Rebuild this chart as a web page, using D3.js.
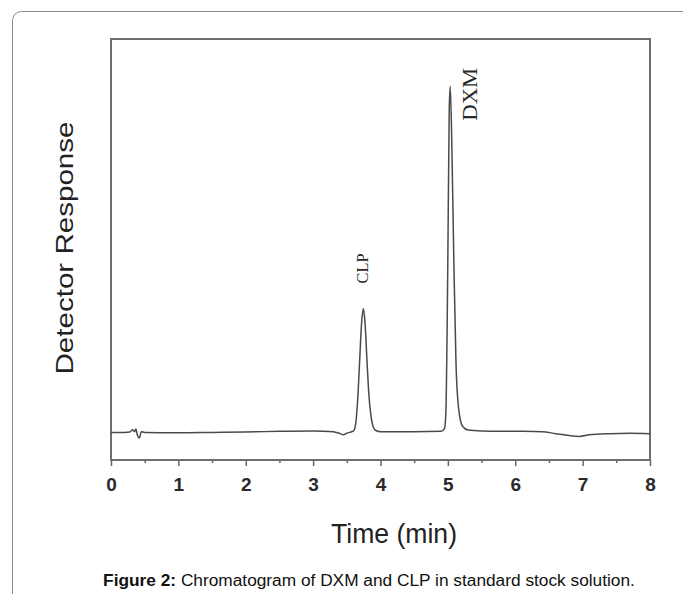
<!DOCTYPE html>
<html>
<head>
<meta charset="utf-8">
<script src="https://cdn.jsdelivr.net/npm/d3@7"></script>
<style>
  html, body { margin: 0; padding: 0; background: #fff; }
  svg { display: block; }
</style>
</head>
<body>
<svg id="chart" width="683" height="594"></svg>
<script>
// ---- data ----
const times = [0.00, 0.20, 0.28, 0.32, 0.35, 0.37, 0.39, 0.42, 0.45, 0.50,
  1.00, 1.50, 2.00, 2.50, 3.00, 3.30, 3.40, 3.45, 3.50, 3.56,
  3.60, 3.63, 3.66, 3.69, 3.72, 3.745, 3.77, 3.80, 3.83, 3.86,
  3.89, 3.93, 4.00, 4.50, 4.90, 4.95, 4.97, 4.99, 5.00, 5.02,
  5.035, 5.06, 5.09, 5.12, 5.16, 5.22, 5.30, 5.50, 6.00, 6.40,
  6.60, 6.80, 6.95, 7.10, 7.40, 7.70, 8.00];
const response = [0.0, 0.0, 0.1, 0.7, 0.2, 0.9, -0.6, -1.4, 0.2, 0.0,
  -0.1, 0.0, 0.1, 0.3, 0.4, 0.2, -0.3, -0.6, -0.2, 0.1,
  0.4, 2, 8, 18, 28, 31.5, 28, 18, 9, 4,
  1.5, 0.5, 0.2, 0.2, 0.3, 1.0, 5, 28, 45, 82,
  88, 72, 42, 18, 6, 1.5, 0.6, 0.4, 0.3, 0.2,
  -0.3, -0.8, -1.0, -0.6, -0.3, -0.2, -0.3];
const majorTicks = [0, 1, 2, 3, 4, 5, 6, 7, 8];
const minorTicks = [0.5, 1.5, 2.5, 3.5, 4.5, 5.5, 6.5, 7.5];
const peakNames = ["CLP", "DXM"];
const peakTimes = [3.745, 5.035];
const peakHeights = [31.5, 88];
const xDomain = [0, 8];
const yDomain = [-7, 100];
const xTitle = "Time (min)";
const yTitle = "Detector Response";
const captionBold = "Figure 2:";
const captionText = " Chromatogram of DXM and CLP in standard stock solution.";

// ---- layout ----
const svg = d3.select("#chart");
const L = 111, R = 650, T = 39, B = 460;

// outer rounded frame
svg.append("rect")
  .attr("x", 12.5).attr("y", 11.5)
  .attr("width", 720).attr("height", 640)
  .attr("rx", 9).attr("ry", 9)
  .attr("fill", "none").attr("stroke", "#8a8a8a").attr("stroke-width", 1);

const x = d3.scaleLinear().domain(xDomain).range([L, R]);
const y = d3.scaleLinear().domain(yDomain).range([B, T]);

// axis with major ticks
const xAxis = d3.axisBottom(x).tickValues(majorTicks).tickSize(6).tickPadding(11)
  .tickFormat(d3.format("d"));
const gx = svg.append("g").attr("transform", `translate(0,${B})`).call(xAxis);
gx.select(".domain").remove();
gx.selectAll(".tick line").attr("stroke", "#666").attr("stroke-width", 1.5);
gx.selectAll(".tick text")
  .attr("font-family", "Liberation Sans, Arial, sans-serif")
  .attr("font-weight", "bold").attr("font-size", 19).attr("fill", "#2a2a2a")
  .attr("dy", "0.72em");

// minor ticks
const xMinor = d3.axisBottom(x).tickValues(minorTicks).tickSize(3).tickFormat("");
const gm = svg.append("g").attr("transform", `translate(0,${B})`).call(xMinor);
gm.select(".domain").remove();
gm.selectAll(".tick line").attr("stroke", "#666").attr("stroke-width", 1.5);

// plot frame
svg.append("rect")
  .attr("x", x(xDomain[0])).attr("y", y(yDomain[1]))
  .attr("width", x(xDomain[1]) - x(xDomain[0]))
  .attr("height", y(yDomain[0]) - y(yDomain[1]))
  .attr("fill", "none").attr("stroke", "#6e6e6e").attr("stroke-width", 2);

// trace
const pts = times.map((t, i) => [t, response[i]]);
const line = d3.line().x(d => x(d[0])).y(d => y(d[1])).curve(d3.curveMonotoneX);
svg.append("path").datum(pts)
  .attr("d", line)
  .attr("fill", "none").attr("stroke", "#4a4a4a").attr("stroke-width", 1.5)
  .attr("stroke-linejoin", "round");

// peak labels (rotated, serif)
const peakFont = [16, 21];
const peakLen = [30, 53];
const peakDx = [5, 27];
const peakDy = [-25, 8];
peakNames.forEach((name, i) => {
  const px = x(peakTimes[i]) + peakDx[i];
  const py = y(peakHeights[i]) + peakDy[i];
  svg.append("text")
    .attr("transform", `translate(${px},${py}) rotate(-90)`)
    .attr("text-anchor", i === 0 ? "start" : "middle")
    .attr("font-family", "Liberation Serif, Times New Roman, serif")
    .attr("font-size", peakFont[i]).attr("fill", "#2a2a2a")
    .attr("textLength", peakLen[i]).attr("lengthAdjust", "spacingAndGlyphs")
    .text(name);
});

// axis titles
svg.append("text")
  .attr("x", 394).attr("y", 543)
  .attr("text-anchor", "middle")
  .attr("font-family", "Liberation Sans, Arial, sans-serif")
  .attr("font-size", 27).attr("fill", "#222")
  .attr("textLength", 126).attr("lengthAdjust", "spacingAndGlyphs")
  .text(xTitle);

svg.append("text")
  .attr("transform", "translate(73,248) rotate(-90)")
  .attr("text-anchor", "middle")
  .attr("font-family", "Liberation Sans, Arial, sans-serif")
  .attr("font-size", 24).attr("fill", "#222")
  .attr("textLength", 253).attr("lengthAdjust", "spacingAndGlyphs")
  .text(yTitle);

// caption
const cap = svg.append("text")
  .attr("x", 369).attr("y", 586)
  .attr("text-anchor", "middle")
  .attr("font-family", "Liberation Sans, Arial, sans-serif")
  .attr("font-size", 17.3).attr("fill", "#111");
cap.append("tspan").attr("font-weight", "bold").text(captionBold);
cap.append("tspan").text(captionText);
</script>
</body>
</html>
